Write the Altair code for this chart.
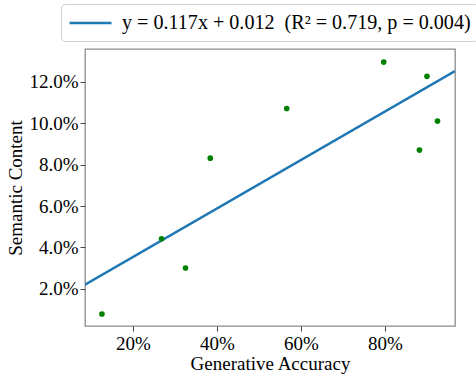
import altair as alt
import pandas as pd

# Data
gen_acc = [0.126, 0.268, 0.325, 0.384, 0.566, 0.797, 0.900, 0.925, 0.882]
sem_content = [0.0079, 0.0442, 0.0301, 0.0831, 0.1071, 0.1295, 0.1226, 0.1010, 0.0870]

fit_label = "y = 0.117x + 0.012\u00a0\u00a0(R² = 0.719, p = 0.004)"
line_x = [0.0857, 0.9667]
line_y = [0.0220, 0.1251]

x_ticks = [0.2, 0.4, 0.6, 0.8]
y_ticks = [0.02, 0.04, 0.06, 0.08, 0.10, 0.12]
x_domain = [0.0857, 0.9667]
y_domain = [0.0021, 0.1358]

pts = pd.DataFrame({"x": gen_acc, "y": sem_content})
fit = pd.DataFrame({"x": line_x, "y": line_y, "label": [fit_label] * 2})

FONT = "Liberation Serif"

xs = alt.Scale(domain=x_domain, nice=False, zero=False)
ys = alt.Scale(domain=y_domain, nice=False, zero=False)

line = alt.Chart(fit).mark_line(strokeWidth=2.5, clip=True).encode(
    x=alt.X("x:Q", scale=xs,
            axis=alt.Axis(values=x_ticks, format=".0%", title="Generative Accuracy")),
    y=alt.Y("y:Q", scale=ys,
            axis=alt.Axis(values=y_ticks, format=".1%", title="Semantic Content")),
    color=alt.Color("label:N",
                    scale=alt.Scale(domain=[fit_label], range=["#1f77b4"]),
                    legend=alt.Legend(title=None, orient="none", legendX=-24, legendY=-45,
                                      symbolType="M-1,0L3,0", symbolSize=441,
                                      symbolStrokeWidth=2.5, symbolStrokeColor="#1f77b4",
                                      labelFont=FONT, labelFontSize=20.1,
                                      labelColor="black",
                                      labelLimit=600, labelOffset=30,
                                      padding=7, fillColor="white", strokeColor="#d0d0d0",
                                      cornerRadius=4)),
)

points = alt.Chart(pts).mark_circle(size=32, opacity=1, color="green").encode(
    x=alt.X("x:Q", scale=xs),
    y=alt.Y("y:Q", scale=ys),
)

chart = alt.layer(line, points).properties(
    width=370, height=277,
    autosize=alt.AutoSizeParams(type="none"),
    padding={"left": 85, "top": 49, "right": 21, "bottom": 49},
).configure_view(
    stroke="#8c8c8c", strokeWidth=1.3
).configure_axis(
    labelFont=FONT, titleFont=FONT, labelFontSize=19, titleFontSize=19,
    labelColor="black", titleColor="black", titleFontWeight="normal",
    domain=False, grid=False, tickColor="#444", tickSize=5, tickWidth=1,
).configure_axisX(
    labelPadding=3, titlePadding=1
).configure_axisY(
    labelPadding=2, titlePadding=3
)

chart.save("out.html", embed_options={"renderer": "svg", "actions": False})
